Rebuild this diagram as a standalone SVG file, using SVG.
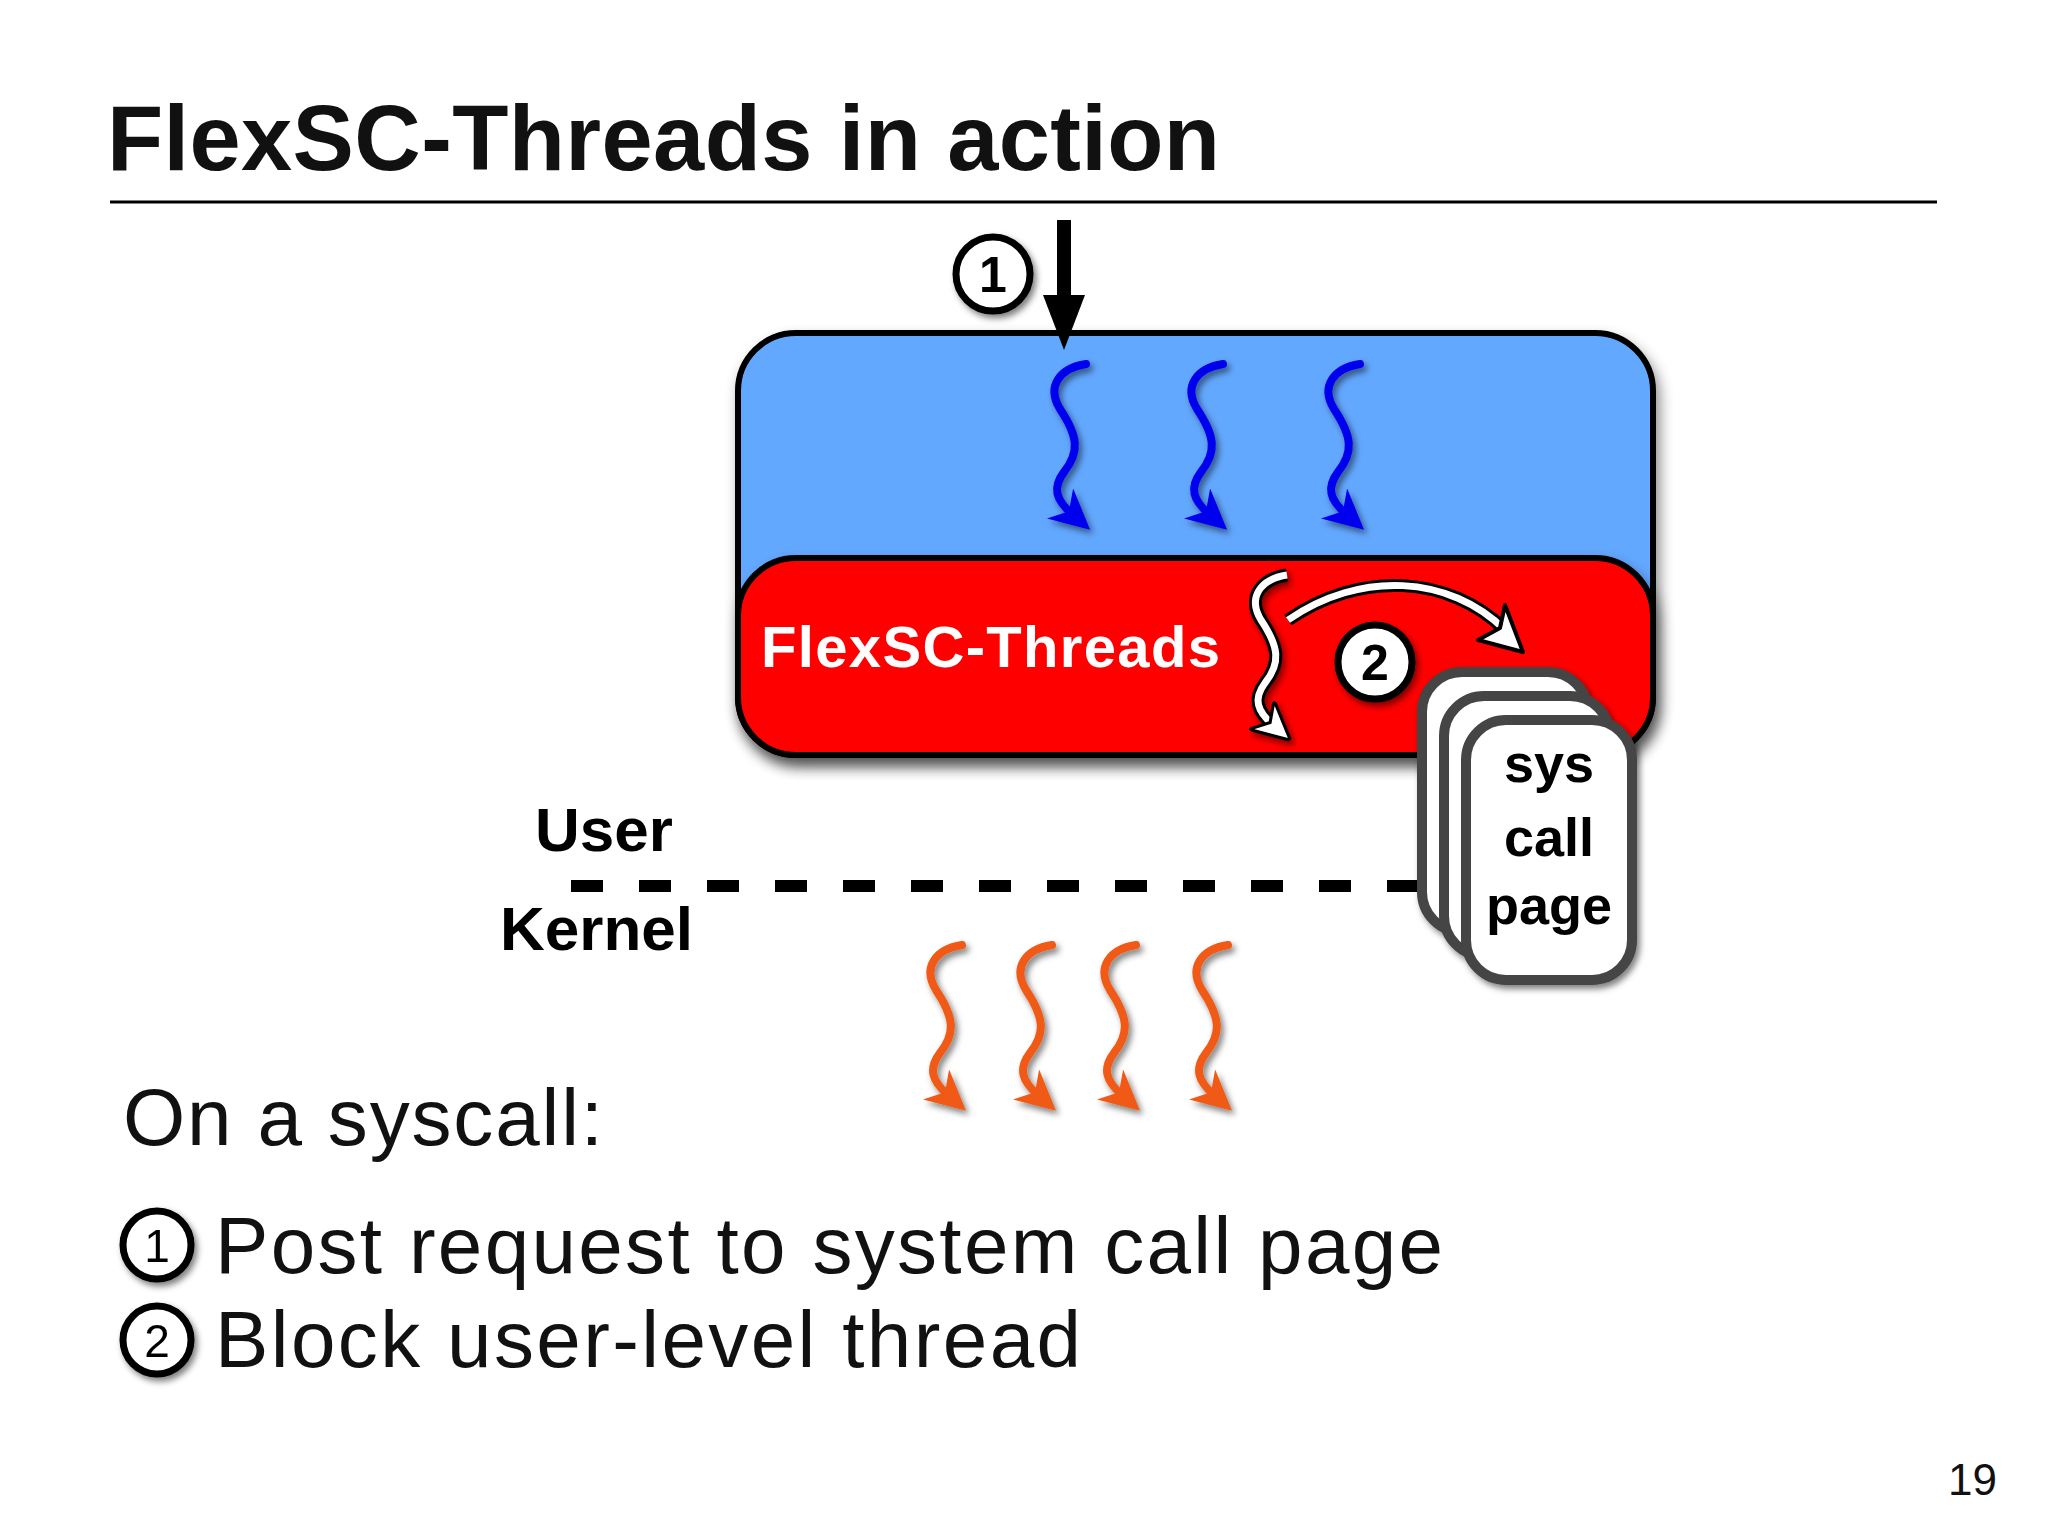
<svg xmlns="http://www.w3.org/2000/svg" width="2048" height="1535" viewBox="0 0 2048 1535">
<defs>
<filter id="sh" x="-10%" y="-10%" width="130%" height="130%"><feDropShadow dx="4" dy="8" stdDeviation="7" flood-color="#000" flood-opacity="0.45"/></filter>
<filter id="sh2" x="-20%" y="-20%" width="150%" height="150%"><feDropShadow dx="3" dy="4" stdDeviation="3" flood-color="#000" flood-opacity="0.5"/></filter>
<marker id="mb" viewBox="0 0 10 10" refX="4" refY="5" markerWidth="5" markerHeight="5" orient="auto"><path d="M0,0 L10,5 L0,10 L3,5 Z" fill="#0000ee"/></marker>
<marker id="mo" viewBox="0 0 10 10" refX="4" refY="5" markerWidth="5" markerHeight="5" orient="auto"><path d="M0,0 L10,5 L0,10 L3,5 Z" fill="#f05a14"/></marker>
<marker id="mw" viewBox="0 0 10 10" refX="4" refY="5" markerWidth="5.5" markerHeight="5.5" orient="auto"><path d="M0,0 L10,5 L0,10 L3,5 Z" fill="#fff" stroke="#000" stroke-width="0.8"/></marker>
<path id="sq" d="M48,0 C22,4 8,22 22,45 C40,72 42,88 26,108 C14,124 18,136 34,150"/>
<style>
.t{font-family:"Liberation Sans",Arial,sans-serif}
.b{font-weight:bold}
.circ{fill:#fff;stroke:#000;stroke-width:7}
.pg{fill:#fff;stroke:#444;stroke-width:10}
</style>
</defs>
<rect width="2048" height="1535" fill="#fff"/>
<text class="t b" x="107" y="170" font-size="92" textLength="1113" fill="#111">FlexSC-Threads in action</text>
<line x1="110" y1="202" x2="1937" y2="202" stroke="#000" stroke-width="3"/>

<g id="userbox" filter="url(#sh)"><rect x="738" y="333" width="915" height="422" rx="58" fill="#64a8ff" stroke="#000" stroke-width="6"/></g>
<g id="kernelbox" filter="url(#sh)"><rect x="738" y="558" width="915" height="197" rx="58" fill="#ff0000" stroke="#000" stroke-width="6"/>
<text class="t b" x="761" y="667" font-size="58" textLength="459" fill="#fff">FlexSC-Threads</text></g>

<g id="blue-threads" fill="none" stroke="#0000ee" stroke-width="8" stroke-linecap="round" filter="url(#sh2)">
<use href="#sq" transform="translate(1038,364)" marker-end="url(#mb)"/>
<use href="#sq" transform="translate(1175,364)" marker-end="url(#mb)"/>
<use href="#sq" transform="translate(1312,364)" marker-end="url(#mb)"/>
</g>
<g id="white-thread" filter="url(#sh2)">
<use href="#sq" transform="translate(1239,575)" fill="none" stroke="#000" stroke-width="13"/>
<use href="#sq" transform="translate(1239,575)" fill="none" stroke="#fff" stroke-width="7" marker-end="url(#mw)"/>
</g>
<g id="orange-threads" fill="none" stroke="#f05a14" stroke-width="8" stroke-linecap="round" filter="url(#sh2)">
<use href="#sq" transform="translate(914,945)" marker-end="url(#mo)"/>
<use href="#sq" transform="translate(1004,945)" marker-end="url(#mo)"/>
<use href="#sq" transform="translate(1088,945)" marker-end="url(#mo)"/>
<use href="#sq" transform="translate(1180,945)" marker-end="url(#mo)"/>
</g>

<g id="connectors">
<line x1="1064" y1="220" x2="1064" y2="300" stroke="#000" stroke-width="14"/>
<polygon points="1043,295 1085,295 1064,350" fill="#000"/>
<path d="M1288,620 C1360,570 1450,575 1505,630" fill="none" stroke="#000" stroke-width="13"/>
<path d="M1288,620 C1360,570 1450,575 1505,630" fill="none" stroke="#fff" stroke-width="7"/>
<polygon points="1478,640 1523,652 1505,605 1500,628" fill="#fff" stroke="#000" stroke-width="4" stroke-linejoin="round"/>
</g>

<g id="c1" filter="url(#sh2)"><circle cx="993" cy="274" r="37" class="circ"/><text class="t b" x="993" y="292" font-size="50" text-anchor="middle">1</text></g>
<g id="c2" filter="url(#sh2)"><circle cx="1375" cy="662" r="37" class="circ"/><text class="t b" x="1375" y="680" font-size="50" text-anchor="middle">2</text></g>

<line x1="571" y1="886" x2="1420" y2="886" stroke="#000" stroke-width="12" stroke-dasharray="32,36"/>
<text class="t b" x="535" y="851" font-size="62" fill="#000">User</text>
<text class="t b" x="500" y="950" font-size="62" fill="#000">Kernel</text>

<g id="pages" filter="url(#sh2)">
<rect x="1422" y="672" width="166" height="260" rx="40" class="pg"/>
<rect x="1444" y="696" width="166" height="260" rx="40" class="pg"/>
<rect x="1466" y="720" width="166" height="260" rx="40" class="pg"/>
<text class="t b" x="1549" y="782" font-size="54" text-anchor="middle">sys</text>
<text class="t b" x="1549" y="856" font-size="54" text-anchor="middle">call</text>
<text class="t b" x="1549" y="924" font-size="54" text-anchor="middle">page</text>
</g>

<text class="t" x="123" y="1145" font-size="80" textLength="480" fill="#111">On a syscall:</text>
<g id="l1" filter="url(#sh2)"><circle cx="157" cy="1245" r="34" class="circ"/><text class="t" x="157" y="1262" font-size="46" text-anchor="middle">1</text></g>
<text class="t" x="215" y="1273" font-size="80" textLength="1228" fill="#111">Post request to system call page</text>
<g id="l2" filter="url(#sh2)"><circle cx="157" cy="1340" r="34" class="circ"/><text class="t" x="157" y="1357" font-size="46" text-anchor="middle">2</text></g>
<text class="t" x="215" y="1367" font-size="80" textLength="866" fill="#111">Block user-level thread</text>
<text class="t" x="1948" y="1495" font-size="44" fill="#111">19</text>
</svg>
